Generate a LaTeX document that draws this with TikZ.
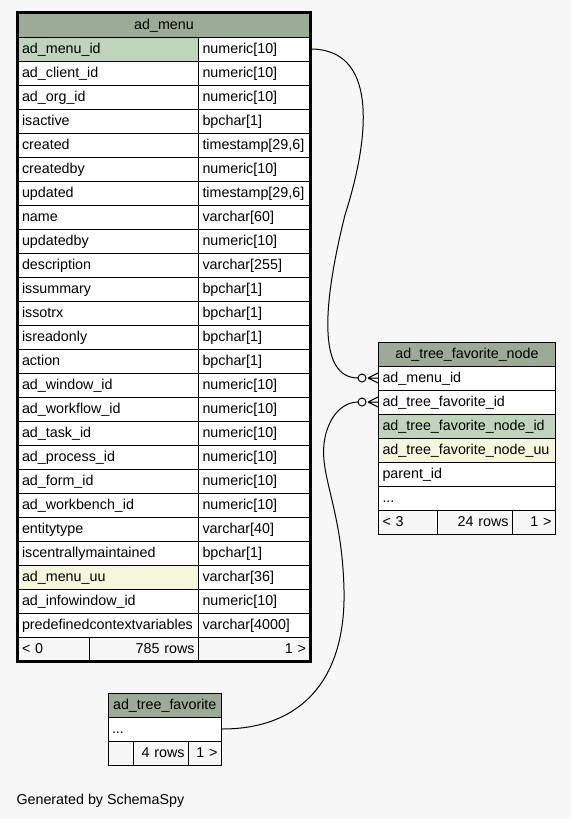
\documentclass[tikz,border=0pt]{standalone}
\usepackage{fontspec}
\setmainfont{Liberation Sans}
\definecolor{hdr}{HTML}{9BAB96}
\definecolor{pkrow}{HTML}{BFD5BB}
\definecolor{uurow}{HTML}{F4F7DC}
\definecolor{bg}{HTML}{F7F7F7}
\newcommand{\crowodot}[1]{%
  \draw ([xshift=-10pt]#1.west) -- ([yshift=5pt]#1.west)
        ([xshift=-10pt]#1.west) -- ([yshift=-5pt]#1.west)
        ([xshift=-10pt]#1.west) -- (#1.west);
  \draw[fill=white] ([xshift=-16pt]#1.west) circle[radius=4pt];}
\begin{document}
\begin{tikzpicture}[x=1pt,y=-1pt,line width=1pt,
  cell/.style={draw,anchor=north west,minimum height=24pt,inner xsep=4pt,inner ysep=0pt,
    text height=11pt,text depth=2pt,align=left,font=\fontsize{14.3}{16}\selectfont}]
\fill[bg] (0,0) rectangle (571,819);
\node[cell,text width=284pt,align=center,fill=hdr] (menu) at (17.5,12.5) {ad\_menu};
\foreach \col/\typ/\fillc [count=\i from 0] in {
  ad\_menu\_id/numeric[10]/pkrow, ad\_client\_id/numeric[10]/white,
  ad\_org\_id/numeric[10]/white, isactive/bpchar[1]/white,
  created/{timestamp[29,6]}/white, createdby/numeric[10]/white,
  updated/{timestamp[29,6]}/white, name/varchar[60]/white,
  updatedby/numeric[10]/white, description/varchar[255]/white,
  issummary/bpchar[1]/white, issotrx/bpchar[1]/white,
  isreadonly/bpchar[1]/white, action/bpchar[1]/white,
  ad\_window\_id/numeric[10]/white, ad\_workflow\_id/numeric[10]/white,
  ad\_task\_id/numeric[10]/white, ad\_process\_id/numeric[10]/white,
  ad\_form\_id/numeric[10]/white, ad\_workbench\_id/numeric[10]/white,
  entitytype/varchar[40]/white, iscentrallymaintained/bpchar[1]/white,
  ad\_menu\_uu/varchar[36]/uurow, ad\_infowindow\_id/numeric[10]/white,
  predefinedcontextvariables/varchar[4000]/white}{
  \node[cell,text width=172.5pt,fill=\fillc] (m\i) at (17.5,36.5+24*\i) {\col};
  \node[cell,text width=103.5pt,fill=white] (mt\i) at (198,36.5+24*\i) {\typ};
}
\node[cell,text width=63.5pt] (mf1) at (17.5,636.5) {< 0};
\node[cell,text width=101pt,align=right] (mf2) at (89,636.5) {785 rows};
\node[cell,text width=103.5pt,align=right] (mf3) at (198,636.5) {1 >};

\node[cell,text width=169pt,align=center,fill=hdr] (node) at (378,341.5) {ad\_tree\_favorite\_node};
\foreach \col/\fillc [count=\i from 0] in {ad\_menu\_id/white, ad\_tree\_favorite\_id/white,
  ad\_tree\_favorite\_node\_id/pkrow, ad\_tree\_favorite\_node\_uu/uurow, parent\_id/white}
  \node[cell,text width=169pt,fill=\fillc] (fk\i) at (378,365.5+24*\i) {\col};
\node[cell,text width=169pt,fill=white] (fk5) at (378,485.5) {...};
\node[cell,text width=51pt] (nf1) at (378,509.5) {< 3};
\node[cell,text width=67pt,align=right] (nf2) at (437,509.5) {24 rows};
\node[cell,text width=35pt,align=right] (nf3) at (512,509.5) {1 >};

\node[cell,text width=105.5pt,align=center,fill=hdr] (fav) at (107.5,692.5) {ad\_tree\_favorite};
\node[cell,text width=105.5pt,fill=white] (fav0) at (107.5,716.5) {...};
\node[cell,text width=17pt] (ff1) at (107.5,740.5) {};
\node[cell,text width=47.5pt,align=right] (ff2) at (132.5,740.5) {4 rows};
\node[cell,text width=25pt,align=right] (ff3) at (188,740.5) {1 >};

\node[anchor=base west,inner sep=0pt,font=\fontsize{14.3}{16}\selectfont] (gen) at (16,804) {Generated by SchemaSpy};

\coordinate (via1) at (345,215);
\coordinate (via2) at (344,590);
\coordinate (via3) at (327,430);
\draw (mt0.east) .. controls +(65,0) and +(27,-85) .. (via1)
  .. controls +(-15,60) and +(-48,0) .. ([xshift=-20pt]fk0.west);
\draw (fav0.east) .. controls +(79,0) and +(2,90) .. (via2)
  .. controls +(-2,-90) and +(-13,40) .. (via3)
  .. controls +(6,-18) and +(-13,0) .. ([xshift=-20pt]fk1.west);
\crowodot{fk0}
\crowodot{fk1}
\draw[line width=3pt] (menu.north west) rectangle (mf3.south east);
\end{tikzpicture}
\end{document}
